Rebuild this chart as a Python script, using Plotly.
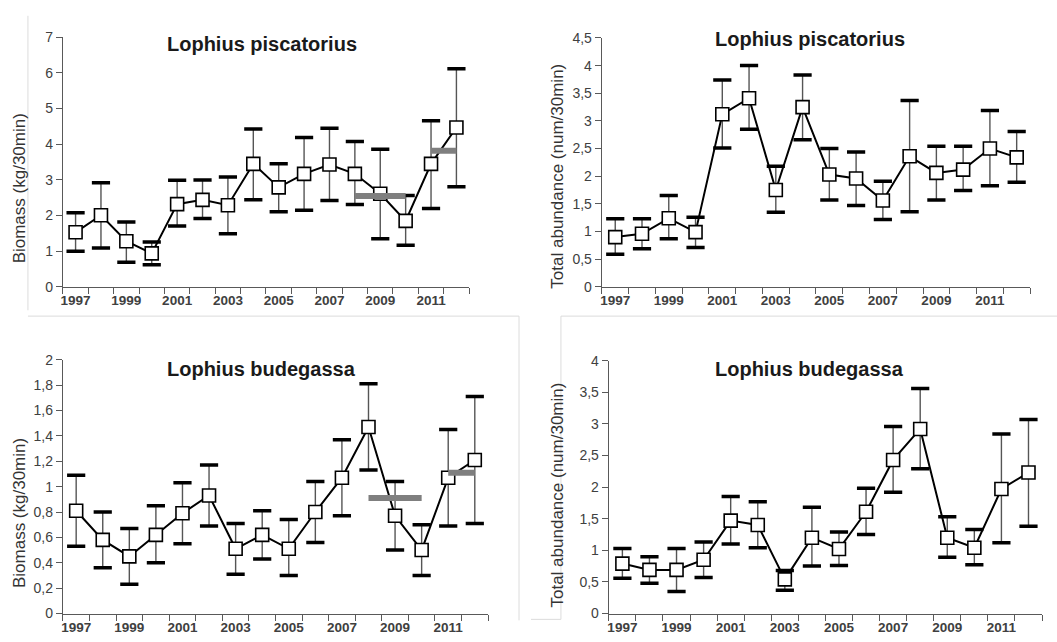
import plotly.graph_objects as go

W, H = 1057, 642

years = [1997, 1998, 1999, 2000, 2001, 2002, 2003, 2004, 2005, 2006, 2007, 2008, 2009, 2010, 2011, 2012]
label_years = [1997, 1999, 2001, 2003, 2005, 2007, 2009, 2011]

# Panel 1: L. piscatorius biomass
pis_bio = [1.53, 2.01, 1.28, 0.94, 2.32, 2.44, 2.29, 3.45, 2.79, 3.17, 3.43, 3.17, 2.61, 1.85, 3.45, 4.47]
pis_bio_hi = [2.08, 2.92, 1.82, 1.26, 2.99, 3.00, 3.08, 4.43, 3.45, 4.19, 4.45, 4.08, 3.86, 2.56, 4.66, 6.12]
pis_bio_lo = [1.00, 1.09, 0.69, 0.62, 1.71, 1.92, 1.49, 2.44, 2.11, 2.15, 2.42, 2.31, 1.35, 1.17, 2.20, 2.81]
pis_bio_periods = [[2008, 2010], [2011, 2012]]
pis_bio_means = [2.55, 3.82]

# Panel 2: L. piscatorius abundance
pis_abu = [0.90, 0.96, 1.24, 0.99, 3.12, 3.41, 1.75, 3.25, 2.03, 1.96, 1.56, 2.36, 2.06, 2.12, 2.50, 2.34]
pis_abu_hi = [1.23, 1.23, 1.65, 1.26, 3.74, 4.00, 2.18, 3.83, 2.50, 2.44, 1.91, 3.37, 2.54, 2.54, 3.19, 2.81]
pis_abu_lo = [0.59, 0.69, 0.87, 0.71, 2.51, 2.85, 1.35, 2.66, 1.57, 1.47, 1.22, 1.36, 1.57, 1.74, 1.83, 1.89]

# Panel 3: L. budegassa biomass
bud_bio = [0.81, 0.58, 0.45, 0.62, 0.79, 0.93, 0.51, 0.62, 0.51, 0.80, 1.07, 1.47, 0.77, 0.50, 1.07, 1.21]
bud_bio_hi = [1.09, 0.80, 0.67, 0.85, 1.03, 1.17, 0.71, 0.81, 0.74, 1.04, 1.37, 1.81, 1.04, 0.70, 1.45, 1.71]
bud_bio_lo = [0.53, 0.36, 0.23, 0.40, 0.55, 0.69, 0.31, 0.43, 0.30, 0.56, 0.77, 1.13, 0.50, 0.30, 0.69, 0.71]
bud_bio_periods = [[2008, 2010], [2011, 2012]]
bud_bio_means = [0.91, 1.11]

# Panel 4: L. budegassa abundance
bud_abu = [0.79, 0.69, 0.69, 0.85, 1.47, 1.40, 0.54, 1.20, 1.02, 1.61, 2.43, 2.92, 1.20, 1.04, 1.97, 2.23]
bud_abu_hi = [1.03, 0.90, 1.03, 1.13, 1.85, 1.77, 0.68, 1.68, 1.29, 1.98, 2.96, 3.56, 1.53, 1.33, 2.84, 3.07]
bud_abu_lo = [0.56, 0.48, 0.35, 0.57, 1.10, 1.04, 0.37, 0.75, 0.76, 1.25, 1.92, 2.29, 0.89, 0.77, 1.12, 1.38]

titles = ["Lophius piscatorius", "Lophius piscatorius", "Lophius budegassa", "Lophius budegassa"]
ytitles = ["Biomass (kg/30min)", "Total abundance (num/30min)", "Biomass (kg/30min)", "Total abundance (num/30min)"]
ymax = [7, 4.5, 2, 4]
ydtick = [1, 0.5, 0.2, 0.5]

# layout geometry (pixels)
xdom_px = [(61, 468), (601, 1030), (61, 487), (608, 1042)]
ydom_px = [(30, 286), (30.7, 286), (360.7, 621), (361.7, 621)]
title_px = [(260, 37), (810, 32), (260, 370), (809, 370)]
ytitle_px = [(17, 185), (557, 172), (17, 518), (557, 499)]

panels = [
    (pis_bio, pis_bio_hi, pis_bio_lo, pis_bio_periods, pis_bio_means),
    (pis_abu, pis_abu_hi, pis_abu_lo, None, None),
    (bud_bio, bud_bio_hi, bud_bio_lo, bud_bio_periods, bud_bio_means),
    (bud_abu, bud_abu_hi, bud_abu_lo, None, None),
]

fig = go.Figure()
annotations = []
axis_color = "#595959"
FONT = "Liberation Sans, Arial, sans-serif"
boundaries = [y - 0.5 for y in years] + [years[-1] + 0.5]

for i, (vals, hi, lo, periods, means) in enumerate(panels):
    n = i + 1
    xa = "x" if n == 1 else f"x{n}"
    ya = "y" if n == 1 else f"y{n}"
    # error bar stems
    fig.add_trace(go.Scatter(
        x=years, y=vals, xaxis=xa, yaxis=ya, mode="markers",
        marker=dict(size=1, color="rgba(0,0,0,0)"),
        error_y=dict(type="data", symmetric=False,
                     array=[h - v for h, v in zip(hi, vals)],
                     arrayminus=[v - l for v, l in zip(vals, lo)],
                     color="#555555", thickness=1.4, width=0),
        showlegend=False, hoverinfo="skip"))
    # caps
    fig.add_trace(go.Scatter(
        x=years + years, y=hi + lo, xaxis=xa, yaxis=ya, mode="markers",
        marker=dict(symbol="line-ew", size=13, line=dict(width=3.5, color="black")),
        showlegend=False, hoverinfo="skip"))
    # main series
    fig.add_trace(go.Scatter(
        x=years, y=vals, xaxis=xa, yaxis=ya, mode="lines+markers",
        line=dict(color="black", width=2),
        marker=dict(symbol="square", size=13, color="white", line=dict(color="black", width=1.6)),
        showlegend=False))
    # period means
    if periods:
        for per, m in zip(periods, means):
            fig.add_trace(go.Scatter(
                x=per, y=[m, m], xaxis=xa, yaxis=ya, mode="lines",
                line=dict(color="#7f7f7f", width=6),
                showlegend=False, hoverinfo="skip"))

    x0, x1 = xdom_px[i]
    yt, yb = ydom_px[i]
    fig.update_layout(**{
        ("xaxis" if n == 1 else f"xaxis{n}"): dict(
            domain=[x0 / W, x1 / W], anchor=ya, range=[boundaries[0], boundaries[-1]],
            tickmode="array", tickvals=label_years, ticktext=[str(y) for y in label_years],
            ticks="outside", ticklen=1, tickcolor="rgba(0,0,0,0)",
            showgrid=False, zeroline=False,
            showline=True, linecolor=axis_color, linewidth=1.3,
            tickfont=dict(family=FONT, size=13.5, color="#404040", weight="bold"),
            minor=dict(tickmode="array", tickvals=boundaries, ticks="outside",
                       ticklen=6, tickcolor=axis_color, tickwidth=1.3, showgrid=False)),
        ("yaxis" if n == 1 else f"yaxis{n}"): dict(
            domain=[1 - yb / H, 1 - yt / H], anchor=xa, range=[0, ymax[i]],
            tick0=0, dtick=ydtick[i], ticks="outside", ticklen=6,
            tickcolor=axis_color, tickwidth=1.3,
            showgrid=False, zeroline=False,
            showline=True, linecolor=axis_color, linewidth=1.3,
            tickfont=dict(family=FONT, size=14, color="#404040")),
    })
    tx, ty = title_px[i]
    annotations.append(dict(
        text=titles[i], x=tx / W, y=1 - ty / H, xref="paper", yref="paper",
        xanchor="center", yanchor="middle", showarrow=False,
        font=dict(family=FONT, size=20, color="#1a1a1a", weight="bold")))
    ax, ay = ytitle_px[i]
    annotations.append(dict(
        text=ytitles[i], x=ax / W, y=1 - ay / H, xref="paper", yref="paper",
        xanchor="center", yanchor="middle", showarrow=False, textangle=-90,
        font=dict(family=FONT, size=17, color="#333333")))

# faint frame lines of the composite figure
frame = "#dcdcdc"
def seg(xa_, ya_, xb_, yb_):
    return dict(type="line", xref="paper", yref="paper",
                x0=xa_ / W, y0=1 - ya_ / H, x1=xb_ / W, y1=1 - yb_ / H,
                line=dict(color=frame, width=1))

shapes = [
    seg(26, 8, 26, 310),
    seg(26, 316, 518, 316),
    seg(518, 316, 518, 628),
    seg(560, 316, 1057, 316),
    seg(560, 316, 560, 627),
    seg(530, 627, 560, 627),
]

fig.update_layout(
    width=W, height=H, margin=dict(l=0, r=0, t=0, b=0),
    paper_bgcolor="white", plot_bgcolor="white",
    separators=", ", annotations=annotations, shapes=shapes,
    showlegend=False,
)

fig.write_html("out.html")
